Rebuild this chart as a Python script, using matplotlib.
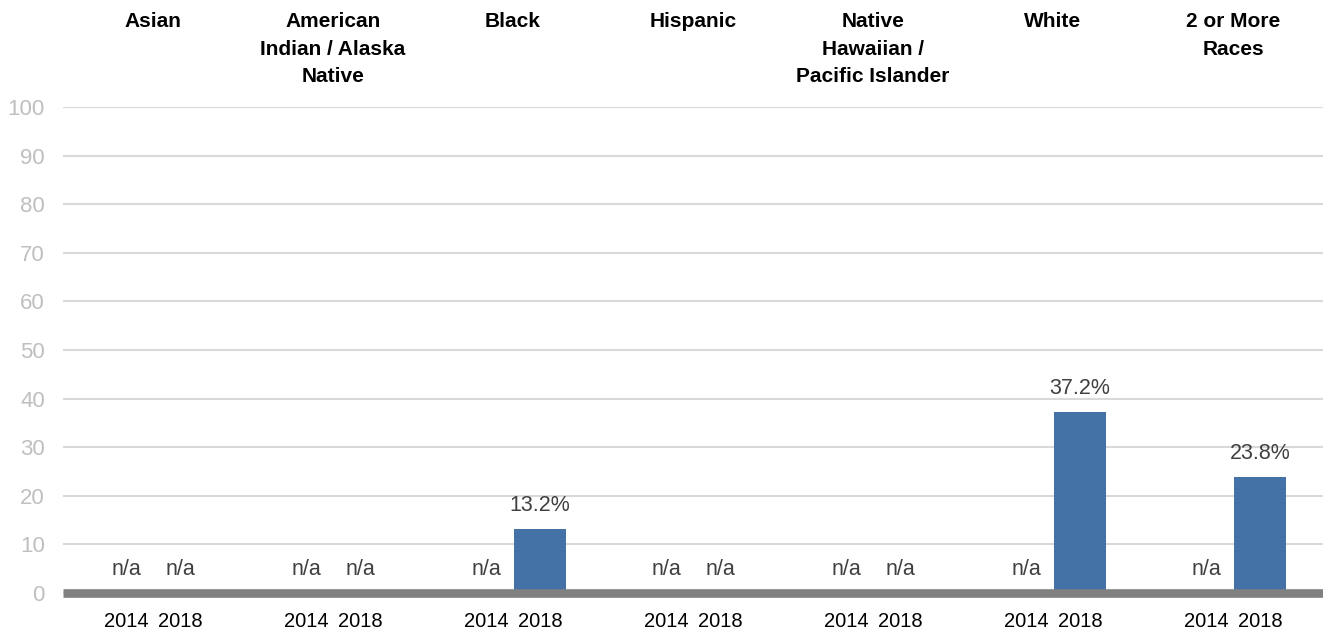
import matplotlib
matplotlib.use("Agg")
import matplotlib.pyplot as plt
import numpy as np

groups = ["Asian", "American\nIndian / Alaska\nNative", "Black", "Hispanic",
          "Native\nHawaiian /\nPacific Islander", "White", "2 or More\nRaces"]
years = ["2014", "2018"]
values_2014 = [None, None, None, None, None, None, None]
values_2018 = [None, None, 13.2, None, None, 37.2, 23.8]
yticks = [0, 10, 20, 30, 40, 50, 60, 70, 80, 90, 100]

plt.rcParams['font.family'] = ['Liberation Sans', 'DejaVu Sans']

fig = plt.figure(figsize=(13.23, 6.35), dpi=100)
ax = fig.add_axes([63/1323, (635-593)/635, 1 - 63/1323, (593-107)/635])

bar_color = "#4472A6"
off = 0.15
width = 0.29
x = np.arange(len(groups))

for series, dx in ((values_2014, -off), (values_2018, off)):
    for i, v in enumerate(series):
        xi = x[i] + dx
        if v is None:
            ax.text(xi, 2.7, "n/a", ha="center", va="bottom", fontsize=15.5, color="#404040")
        else:
            ax.bar(xi, v, width=width, color=bar_color, zorder=3)
            ax.text(xi, v + 2.7, f"{v:.1f}%", ha="center", va="bottom", fontsize=15.5, color="#404040")

ax.set_xlim(-0.5, len(groups) - 0.5)
ax.set_ylim(0, 100)
ax.set_yticks(yticks)
ax.set_yticklabels([str(t) for t in yticks], color="#BFBFBF", fontsize=16)
ax.tick_params(axis="y", length=0, pad=13)
ax.grid(axis="y", color="#D9D9D9", linewidth=1.5, zorder=0)
ax.set_axisbelow(True)
for s in ax.spines.values():
    s.set_visible(False)
ax.axhline(0, color="#808080", linewidth=6.2, zorder=4, clip_on=False, solid_capstyle="butt")

# year labels
ax.set_xticks(np.concatenate([x - off, x + off]))
ax.set_xticklabels([years[0]] * len(groups) + [years[1]] * len(groups), fontsize=14.5, color="black")
ax.tick_params(axis="x", length=0, pad=14)

# group headers
for i, g in enumerate(groups):
    ax.text(x[i], 1.0 + (107 - 12) / 486, g, transform=ax.get_xaxis_transform(),
            ha="center", va="top", fontsize=15, fontweight="bold", linespacing=1.58)

fig.savefig("out.png", dpi=100)
